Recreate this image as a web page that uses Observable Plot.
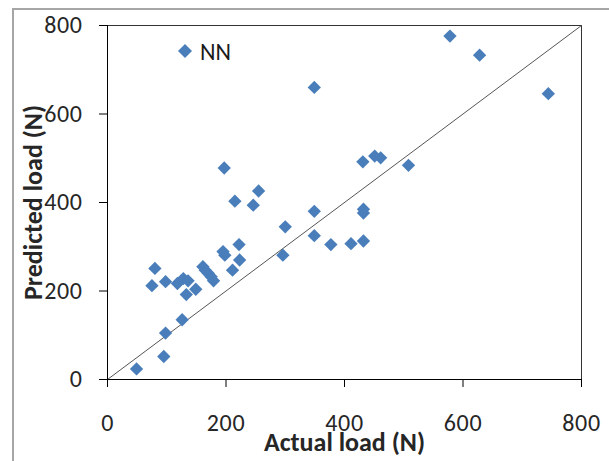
<!DOCTYPE html>
<html>
<head>
<meta charset="utf-8">
<script src="https://cdn.jsdelivr.net/npm/d3@7"></script>
<script src="https://cdn.jsdelivr.net/npm/@observablehq/plot@0.6"></script>
<style>
  html, body { margin: 0; padding: 0; background: #fff; }
  #wrap { position: relative; width: 609px; height: 461px; overflow: hidden; font-family: Carlito, Lato, sans-serif; }
  #border { position: absolute; left: 12px; top: 8px; width: 700px; height: 600px; border-left: 2px solid #a6a6a6; border-top: 2px solid #a6a6a6; pointer-events: none; }
  #legend { position: absolute; left: 178px; top: 36px; height: 30px; display: flex; align-items: center; font-size: 24px; color: #1a1a1a; }
  #legend svg { margin-right: 8px; }
  g[aria-label="x-axis label"], g[aria-label="y-axis label"] { font-weight: bold; font-size: 26px; }
  g[aria-label="x-axis tick label"], g[aria-label="y-axis tick label"] { letter-spacing: 0.6px; }
</style>
</head>
<body>
<div id="wrap">
  <div id="chart"></div>
  <div id="border"></div>
  <div id="legend"><svg width="14" height="14"><path d="M7,0L14,7L7,14L0,7Z" fill="#4a7ebb"/></svg><span>NN</span></div>
</div>
<script>
const seriesName = "NN";
const actual = [578, 628, 744, 349, 508, 431, 451, 461, 197, 255, 215, 246, 349, 432, 432, 300, 349, 377, 411, 432, 222, 296, 195, 198, 223, 211, 80, 75, 98, 118, 128, 136, 133, 149, 161, 165, 170, 175, 179, 126, 98, 95, 49];
const predicted = [776, 733, 646, 660, 484, 492, 505, 501, 478, 426, 403, 394, 380, 385, 376, 345, 325, 305, 307, 313, 305, 281, 289, 281, 270, 247, 251, 212, 221, 217, 228, 223, 192, 204, 255, 247, 240, 232, 223, 135, 105, 52, 24];
const xTicks = [0, 200, 400, 600, 800];
const yTicks = [0, 200, 400, 600, 800];
const diagX = [0, 800];
const diagY = [0, 800];

const points = actual.map((a, i) => ({actual: a, predicted: predicted[i], series: seriesName}));
const diag = diagX.map((x, i) => ({x, y: diagY[i]}));

const chart = Plot.plot({
  width: 609,
  height: 461,
  marginLeft: 107,
  marginRight: 28,
  marginTop: 25,
  marginBottom: 82,
  style: {fontFamily: "Carlito, Lato, sans-serif", fontSize: "24px", color: "#262626", background: "white", overflow: "visible"},
  x: {domain: [0, 800]},
  y: {domain: [0, 800]},
  marks: [
    Plot.frame({stroke: "#333"}),
    Plot.line(diag, {x: "x", y: "y", stroke: "#555", strokeWidth: 1}),
    Plot.dot(points, {x: "actual", y: "predicted", symbol: "diamond2", r: 6, fill: "#4a7ebb", stroke: "none"}),
    Plot.axisX({ticks: xTicks, tickSize: 8, tickPadding: 26, fontSize: 24, stroke: "#000", label: "Actual load (N)", labelAnchor: "center", labelOffset: 71, labelArrow: false}),
    Plot.axisY({ticks: yTicks, tickSize: 8, tickPadding: 17, fontSize: 24, stroke: "#000", label: "Predicted load (N)", labelAnchor: "center", labelOffset: 84, labelArrow: false}),
    Plot.ruleX([0], {stroke: "#000"}),
    Plot.ruleY([0], {stroke: "#000"})
  ]
});
document.getElementById("chart").appendChild(chart);
</script>
</body>
</html>
